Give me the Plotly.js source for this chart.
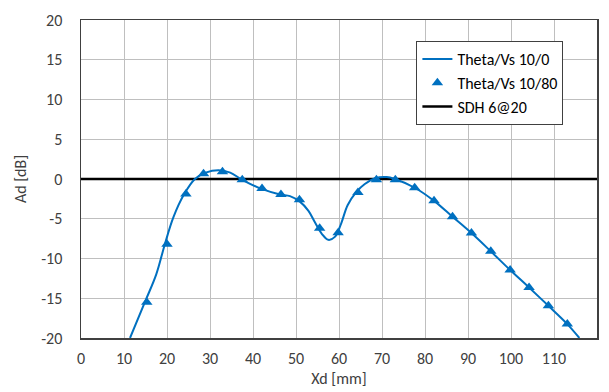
<!DOCTYPE html>
<html>
<head>
<meta charset="utf-8">
<script src="https://cdn.plot.ly/plotly-3.0.1.min.js"></script>
<style>html,body{margin:0;padding:0;background:#fff;}#chart{width:609px;height:392px;}</style>
</head>
<body>
<div id="chart"></div>
<script>
// Curve "Theta/Vs 10/0"
const lineX = [11.4, 15.0, 17.5, 19.5, 21.5, 24.0, 26.5, 29.0, 32.0, 34.7, 37.5, 42.0, 46.3, 48.6, 50.9, 52.9, 54.4, 56.0, 57.5, 59.1, 60.5, 62.0, 64.0, 66.0, 68.4, 71.1, 73.0, 77.6, 82.1, 86.4, 90.8, 95.3, 99.8, 104.2, 108.7, 113.1, 115.9];
const lineY = [-20, -15.3, -12.0, -8.2, -4.8, -1.9, 0.0, 0.8, 1.1, 0.8, -0.1, -1.25, -1.95, -2.15, -2.85, -4.0, -5.45, -6.9, -7.65, -7.25, -5.6, -3.3, -1.65, -0.63, 0.1, 0.25, 0, -1.1, -2.75, -4.75, -6.8, -9.1, -11.45, -13.65, -15.95, -18.25, -20];
// Markers "Theta/Vs 10/80"
const markX = [15.3, 20.0, 24.4, 28.5, 32.9, 37.5, 42.1, 46.5, 50.8, 55.5, 59.8, 64.4, 68.7, 73.1, 77.6, 82.1, 86.4, 90.8, 95.3, 99.8, 104.2, 108.7, 113.1];
const markY = [-15.5, -8.2, -1.9, 0.65, 0.9, -0.1, -1.2, -1.95, -2.6, -6.2, -6.75, -1.7, -0.1, -0.1, -1.1, -2.75, -4.75, -6.8, -9.1, -11.45, -13.65, -15.95, -18.25];
// Reference "SDH 6@20"
const sdhX = [0, 120];
const sdhY = [0, 0];

const xTicks = [0, 10, 20, 30, 40, 50, 60, 70, 80, 90, 100, 110, 120];
const yTicks = [-20, -15, -10, -5, 0, 5, 10, 15, 20];

const blue = '#0070c0';
const font = 'Carlito, Lato, "Liberation Sans", sans-serif';

const traces = [
  {x: sdhX, y: sdhY, type: 'scatter', mode: 'lines', name: 'SDH 6@20',
   line: {color: '#000000', width: 2.5}, legendrank: 3},
  {x: lineX, y: lineY, type: 'scatter', mode: 'lines', name: 'Theta/Vs 10/0',
   line: {color: blue, width: 2, shape: 'spline', smoothing: 1}, legendrank: 1},
  {x: markX, y: markY, type: 'scatter', mode: 'markers', name: 'Theta/Vs 10/80',
   marker: {symbol: 'triangle-up', size: 10, color: blue}, legendrank: 2}
];

const axisCommon = {
  showgrid: true, gridcolor: '#bfbfbf', gridwidth: 1,
  showline: true, mirror: true, linecolor: '#404040', linewidth: 1.5,
  zeroline: false, ticks: 'outside', tickcolor: 'rgba(0,0,0,0)',
  tickfont: {family: font, size: 16, color: '#404040'},
  fixedrange: true
};

const layout = {
  width: 609, height: 392,
  margin: {l: 81, r: 12, t: 20, b: 54},
  paper_bgcolor: '#ffffff', plot_bgcolor: '#ffffff',
  showlegend: true,
  xaxis: Object.assign({}, axisCommon, {
    range: [0, 120], tickvals: xTicks, ticktext: xTicks.map(String),
    ticklen: 5,
    title: {text: 'Xd [mm]', font: {family: font, size: 16, color: '#404040'}, standoff: 6}
  }),
  yaxis: Object.assign({}, axisCommon, {
    range: [-20, 20], tickvals: yTicks, ticktext: yTicks.map(String),
    ticklen: 14,
    title: {text: 'Ad [dB]', font: {family: font, size: 16, color: '#404040'}, standoff: 10}
  }),
  legend: {
    x: 0.65, y: 0.934, xanchor: 'left', yanchor: 'top',
    bgcolor: '#ffffff', bordercolor: '#404040', borderwidth: 1,
    font: {family: font, size: 16, color: '#000000'},
    traceorder: 'normal', itemwidth: 30
  }
};

Plotly.newPlot('chart', traces, layout, {displayModeBar: false, staticPlot: true});
</script>
</body>
</html>
